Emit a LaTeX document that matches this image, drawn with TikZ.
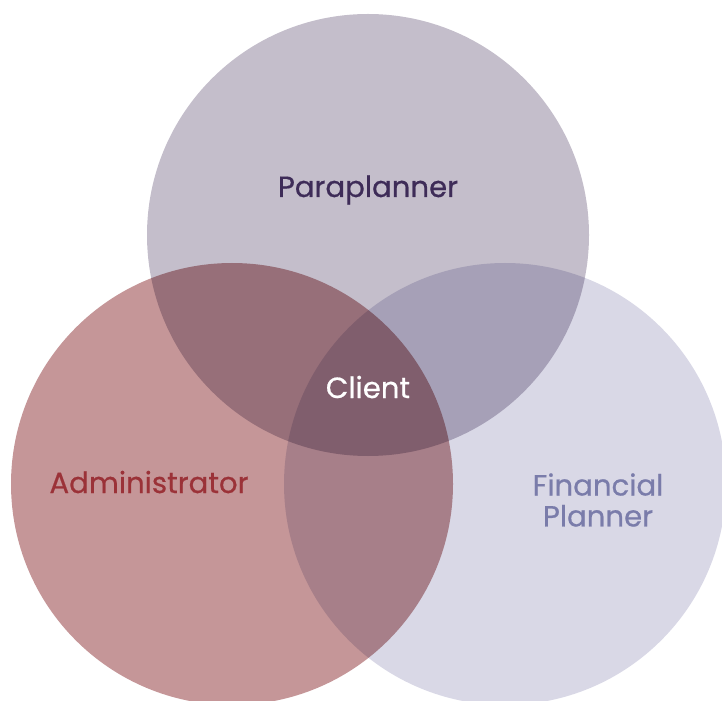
\documentclass[tikz,border=0pt]{standalone}
\usepackage{fontspec}
\setmainfont{Poppins}[FakeBold=0.6]
\definecolor{paracol}{HTML}{C4BECB}
\definecolor{admincol}{HTML}{C59698}
\definecolor{fincol}{HTML}{D9D8E6}
\definecolor{paratext}{HTML}{3E2C58}
\definecolor{admintext}{HTML}{9B3238}
\definecolor{fintext}{HTML}{7A7CAA}
\tikzset{
  venn label/.style={font=\fontsize{16.6}{17.6}\selectfont, align=center, inner sep=0pt}
}
\begin{document}
\begin{tikzpicture}[x=0.02cm,y=0.02cm]

        \useasboundingbox (0,0) rectangle (722,700);
        \clip (0,0) rectangle (722,700);

        % circles, multiplied where they overlap
        \begin{scope}[blend group=multiply]
          \fill[paracol]  (368,465) circle (221);
          \fill[admincol] (232,216) circle (221);
          \fill[fincol]   (505,216) circle (221);
        \end{scope}

        \begin{scope}[every node/.style={venn label}]
          \node[text=paratext, anchor=base]  (para)   at (368,503) {Paraplanner};
          \node[text=white, anchor=base]     (client) at (368,302) {Client};
          \node[text=admintext, anchor=base] (admin)  at (149,207) {Administrator};
          \node[text=fintext]                (fin)    at (598,200) {Financial\\Planner};
        \end{scope}

      \end{tikzpicture}
\end{document}
